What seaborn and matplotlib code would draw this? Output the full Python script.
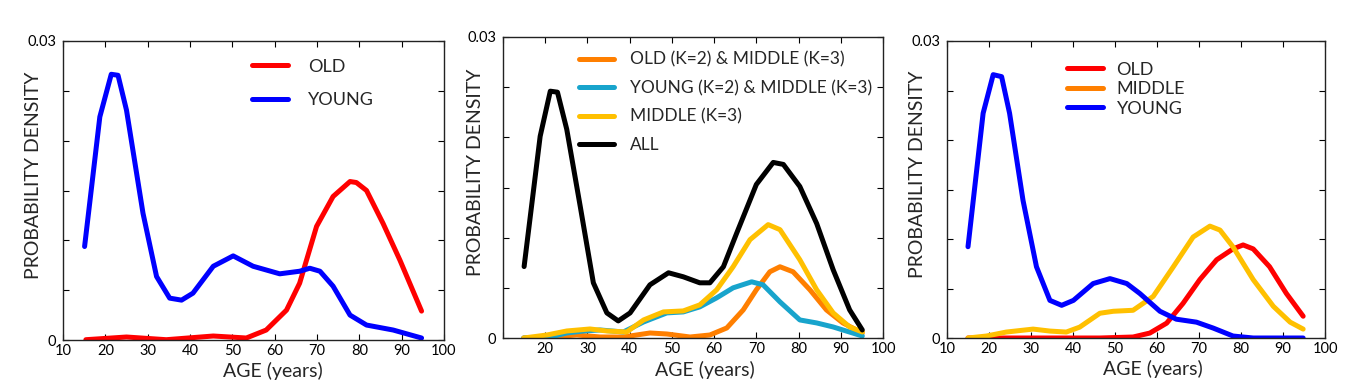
import numpy as np
import pandas as pd
import matplotlib
matplotlib.use("Agg")
import matplotlib.pyplot as plt
from matplotlib.lines import Line2D
import seaborn as sns

# ---------------- data ----------------
# Panel 1
p1_young_age = [15.1, 18.7, 21.4, 23.0, 25.0, 28.9, 32.1, 35.2, 38.0, 40.7, 45.5, 50.2, 54.9,
                61.2, 65.9, 68.3, 70.7, 73.8, 77.8, 81.7, 88.0, 94.7]
p1_young_den = [0.00938, 0.02239, 0.02666, 0.02656, 0.02306, 0.01271, 0.00637, 0.0042, 0.0040,
                0.0047, 0.0074, 0.00844, 0.0074, 0.00664, 0.0069, 0.0072, 0.0069, 0.0054,
                0.0025, 0.0015, 0.0010, 0.0002]
p1_old_age = [15.4, 25.0, 34.4, 45.5, 53.3, 58.0, 62.8, 65.9, 69.9, 73.8, 77.8, 79.3, 81.7,
              85.6, 89.6, 94.7]
p1_old_den = [0.00003, 0.0003, 0.00003, 0.0004, 0.0002, 0.0010, 0.0030, 0.0057, 0.0114,
              0.0144, 0.0159, 0.0158, 0.0150, 0.0117, 0.0080, 0.0029]

# Panel 2
p2_all_age = [15.0, 18.8, 21.2, 22.9, 25.1, 28.3, 31.4, 34.6, 37.3, 40.1, 44.8, 49.2, 52.7,
              56.6, 59.0, 62.2, 65.3, 70.0, 74.0, 76.4, 80.3, 84.3, 88.2, 92.1, 95.1]
p2_all_den = [0.00712, 0.0201, 0.0246, 0.0245, 0.0208, 0.0131, 0.0055, 0.0025, 0.0017, 0.0025,
              0.0053, 0.0065, 0.0061, 0.0055, 0.0055, 0.0071, 0.0104, 0.0153, 0.0175, 0.0173,
              0.0151, 0.0114, 0.0068, 0.0028, 0.0008]
p2_mid_age = [14.9, 20.4, 25.1, 30.6, 34.6, 39.3, 43.3, 48.0, 52.7, 56.6, 60.6, 64.5, 68.5,
              72.8, 75.6, 80.3, 84.3, 88.2, 92.1, 95.1]
p2_mid_den = [0.0, 0.0003, 0.0007, 0.0009, 0.0007, 0.0006, 0.0018, 0.0026, 0.0027, 0.0033,
              0.0048, 0.0071, 0.0098, 0.0113, 0.0108, 0.0078, 0.0048, 0.0025, 0.0011, 0.0006]
p2_young_age = [14.9, 21.2, 25.1, 29.1, 33.0, 38.5, 43.3, 48.8, 52.7, 56.6, 60.6, 64.5, 68.9,
                71.6, 75.6, 80.3, 84.3, 88.2, 95.1]
p2_young_den = [0.0, 0.0001, 0.0005, 0.0007, 0.0008, 0.0006, 0.0016, 0.0025, 0.0026, 0.0031,
                0.0040, 0.0050, 0.0056, 0.0053, 0.0036, 0.0018, 0.0015, 0.0011, 0.0002]
p2_old_age = [14.9, 21.2, 27.5, 33.0, 38.5, 44.8, 48.8, 54.3, 59.0, 63.0, 66.9, 70.0, 73.2,
              75.6, 78.7, 82.7, 86.6, 90.5, 95.1]
p2_old_den = [0.0, 0.0001, 0.0003, 0.0001, 0.0001, 0.0005, 0.0004, 0.0001, 0.0003, 0.0010,
              0.0028, 0.0048, 0.0066, 0.0071, 0.0066, 0.0048, 0.0028, 0.0015, 0.0005]

# Panel 3
p3_young_age = [15.0, 18.6, 21.0, 23.0, 24.9, 28.1, 31.3, 34.5, 37.3, 40.1, 44.8, 48.8, 52.8,
                55.9, 60.7, 64.6, 69.4, 73.4, 78.1, 82.9, 94.8]
p3_young_den = [0.00922, 0.0227, 0.0266, 0.0264, 0.0227, 0.0139, 0.0072, 0.0038, 0.0033,
                0.0038, 0.0055, 0.0060, 0.0055, 0.0045, 0.0027, 0.0019, 0.0016, 0.0010,
                0.0002, 0.0, 0.0]
p3_mid_age = [15.0, 19.4, 24.1, 30.5, 34.5, 38.4, 41.6, 46.4, 49.6, 54.3, 59.1, 63.9, 68.6,
              72.6, 75.0, 78.1, 82.9, 87.7, 91.7, 94.8]
p3_mid_den = [0.0, 0.0002, 0.0006, 0.0009, 0.0007, 0.0006, 0.0011, 0.0025, 0.0027, 0.0028,
              0.0042, 0.0072, 0.0102, 0.0113, 0.0109, 0.0092, 0.0059, 0.0032, 0.0016, 0.0009]
p3_old_age = [15.0, 22.6, 46.4, 54.3, 58.3, 62.3, 66.2, 70.2, 74.2, 78.1, 80.5, 82.9, 86.8,
              90.8, 94.8]
p3_old_den = [0.0, 0.0, 0.0, 0.0001, 0.0005, 0.0015, 0.0035, 0.0059, 0.0079, 0.0090, 0.0094,
              0.0090, 0.0072, 0.0045, 0.0022]

x_ticks = [10, 20, 30, 40, 50, 60, 70, 80, 90, 100]
y_ticks = [0, 0.005, 0.01, 0.015, 0.02, 0.025, 0.03]
y_ticklabels = ["0", "", "", "", "", "", "0.03"]

RED, BLUE, ORANGE, CYAN, YELLOW, BLACK = "#FF0000", "#0000FF", "#FF7F00", "#18A4CC", "#FFC000", "#000000"

# ---------------- style ----------------
sns.set_theme(style="white")
plt.rcParams["font.family"] = ["Lato", "DejaVu Sans"]

fig = plt.figure(figsize=(13.52, 3.89), dpi=100)


def make_df(series):
    rows = []
    for name, ages, dens in series:
        for a, d in zip(ages, dens):
            rows.append((name, a, d))
    return pd.DataFrame(rows, columns=["group", "age", "density"])


def style_axes(ax, hide_first_x=False, xlab_x=0.55, ylab_x=-0.055):
    ax.set_xlim(10, 100)
    ax.set_ylim(0, 0.03)
    ax.set_xticks(x_ticks)
    xl = [str(t) for t in x_ticks]
    if hide_first_x:
        xl[0] = ""
    ax.set_xticklabels(xl)
    ax.set_yticks(y_ticks)
    ax.set_yticklabels(y_ticklabels)
    ax.tick_params(direction="in", length=4, width=0.8, top=True, right=True,
                   bottom=True, left=True, labelsize=10.5, pad=3, colors="black")
    ax.tick_params(axis="y", pad=5)
    for s in ax.spines.values():
        s.set_color("#222222")
        s.set_linewidth(1.0)
    ax.set_xlabel("AGE (years)", fontsize=14, labelpad=0)
    ax.set_ylabel("PROBABILITY DENSITY", fontsize=14, labelpad=2)
    ax.xaxis.set_label_coords(xlab_x, -0.075)
    ax.yaxis.set_label_coords(ylab_x, 0.55)
    ax.grid(False)


LW = 3.6


def draw(ax, series, colors):
    df = make_df(series)
    sns.lineplot(data=df, x="age", y="density", hue="group", palette=colors,
                 sort=False, estimator=None, linewidth=LW, ax=ax, legend=False)


# Panel 1
ax1 = fig.add_axes([63 / 1352, 49 / 389, 381 / 1352, 299 / 389])
draw(ax1, [("OLD", p1_old_age, p1_old_den), ("YOUNG", p1_young_age, p1_young_den)],
     {"OLD": RED, "YOUNG": BLUE})
style_axes(ax1, xlab_x=0.55, ylab_x=-0.055)
h1 = [Line2D([], [], color=RED, lw=LW), Line2D([], [], color=BLUE, lw=LW)]
ax1.legend(h1, ["OLD", "YOUNG"], frameon=False, fontsize=13, handlelength=2.0,
           handletextpad=1.1, labelspacing=0.95, loc="upper left",
           bbox_to_anchor=(0.478, 0.965), borderaxespad=0)

# Panel 2
ax2 = fig.add_axes([503 / 1352, 51 / 389, 380 / 1352, 301 / 389])
draw(ax2, [("OLD2", p2_old_age, p2_old_den), ("YOUNG2", p2_young_age, p2_young_den),
           ("MID", p2_mid_age, p2_mid_den), ("ALL", p2_all_age, p2_all_den)],
     {"OLD2": ORANGE, "YOUNG2": CYAN, "MID": YELLOW, "ALL": BLACK})
style_axes(ax2, hide_first_x=True, xlab_x=0.53, ylab_x=-0.05)
h2 = [Line2D([], [], color=ORANGE, lw=LW), Line2D([], [], color=CYAN, lw=LW),
      Line2D([], [], color=YELLOW, lw=LW), Line2D([], [], color=BLACK, lw=LW)]
ax2.legend(h2, ["OLD (K=2) & MIDDLE (K=3)", "YOUNG (K=2) & MIDDLE (K=3)",
                "MIDDLE (K=3)", "ALL"],
           frameon=False, fontsize=12.5, handlelength=2.0, handletextpad=0.95,
           labelspacing=0.72, loc="upper left", bbox_to_anchor=(0.182, 0.975),
           borderaxespad=0)

# Panel 3
ax3 = fig.add_axes([947 / 1352, 51 / 389, 378 / 1352, 297 / 389])
draw(ax3, [("OLD", p3_old_age, p3_old_den), ("MIDDLE", p3_mid_age, p3_mid_den),
           ("YOUNG", p3_young_age, p3_young_den)],
     {"OLD": RED, "MIDDLE": YELLOW, "YOUNG": BLUE})
style_axes(ax3, xlab_x=0.545, ylab_x=-0.055)
h3 = [Line2D([], [], color=RED, lw=LW), Line2D([], [], color=ORANGE, lw=LW),
      Line2D([], [], color=BLUE, lw=LW)]
ax3.legend(h3, ["OLD", "MIDDLE", "YOUNG"], frameon=False, fontsize=13, handlelength=2.0,
           handletextpad=0.75, labelspacing=0.2, loc="upper left",
           bbox_to_anchor=(0.298, 0.955), borderaxespad=0)

fig.savefig("out.png", dpi=100, facecolor="white")
